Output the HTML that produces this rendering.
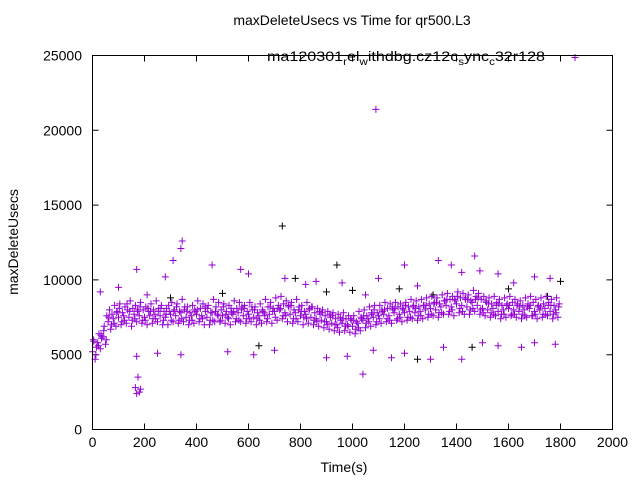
<!DOCTYPE html>
<html><head><meta charset="utf-8"><style>
body{margin:0;background:#fff}
svg{display:block;font-family:"Liberation Sans",sans-serif}
</style></head><body>
<svg id="chart" width="640" height="480" viewBox="0 0 640 480">
<rect width="640" height="480" fill="#fff"/>
<text x="352" y="25" text-anchor="middle" font-size="14">maxDeleteUsecs vs Time for qr500.L3</text>
<text x="344" y="472" text-anchor="middle" font-size="14">Time(s)</text>
<text transform="translate(18,242) rotate(-90)" text-anchor="middle" font-size="14">maxDeleteUsecs</text>
<text x="267" y="61" text-anchor="start" font-size="14" textLength="278" lengthAdjust="spacingAndGlyphs">ma120301<tspan dy="4" font-size="10">r</tspan><tspan dy="-4">el</tspan><tspan dy="4" font-size="10">w</tspan><tspan dy="-4">ithdbg.cz12c</tspan><tspan dy="4" font-size="10">s</tspan><tspan dy="-4">ync</tspan><tspan dy="4" font-size="10">c</tspan><tspan dy="-4">32r128</tspan></text>
<path d="M571.5 57.5H578.5M575 54V61" stroke="#9400d3" stroke-width="1"/>
<g id="axes"></g>
<g id="marks"></g>
<rect x="92.5" y="55.5" width="520" height="374" fill="none" stroke="#000"/>
</svg>
<script>
const xTicks=[0,200,400,600,800,1000,1200,1400,1600,1800,2000];
const yTicks=[0,5000,10000,15000,20000,25000];
const bandTimes=[0,20,40,60,80,100,120,140,160,180,200,220,240,260,280,300,320,340,360,380,400,420,440,460,480,500,520,540,560,580,600,620,640,660,680,700,720,740,760,780,800,820,840,860,880,900,920,940,960,980,1000,1020,1040,1060,1080,1100,1120,1140,1160,1180,1200,1220,1240,1260,1280,1300,1320,1340,1360,1380,1400,1420,1440,1460,1480,1500,1520,1540,1560,1580,1600,1620,1640,1660,1680,1700,1720,1740,1760,1780];
const bandA=[5200,5800,6200,7200,7400,7500,7600,7500,7700,7600,7500,7600,7700,7600,7500,7700,7600,7800,7500,7600,7700,7600,7500,7800,7700,7600,7500,7700,7800,7600,7700,7500,7600,7800,7700,7900,8000,7800,7700,7800,7600,7700,7500,7400,7300,7200,7100,7000,7100,7000,6900,7100,7300,7400,7500,7600,7700,7600,7800,7700,7800,7900,7800,7900,8000,8100,8000,8200,8300,8200,8400,8300,8200,8500,8300,8100,8000,8100,7900,8000,8100,8000,7900,8000,8100,7900,8000,8100,7900,8000];
const bandB=[5900,6400,6900,8000,8300,8400,8200,8600,8300,8500,8200,8400,8600,8300,8100,8500,8400,8700,8200,8300,8600,8400,8300,8700,8500,8400,8300,8600,8500,8300,8500,8200,8400,8700,8500,8800,8900,8600,8500,8700,8300,8500,8200,8100,8000,7900,7800,7700,7800,7600,7600,7900,8000,8200,8300,8300,8500,8400,8500,8400,8500,8700,8600,8700,8800,8900,8800,9000,9100,8900,9200,9100,9000,9300,9100,8900,8800,8900,8700,8800,8900,8700,8600,8800,8900,8700,8800,8900,8700,8800];
const bandC=[4700,5400,5700,6700,6900,7000,7100,6900,7200,7100,7000,7100,7200,7000,7000,7200,7100,7200,7000,7100,7200,7000,7000,7200,7200,7100,7000,7200,7200,7100,7200,7000,7100,7200,7100,7300,7400,7200,7100,7200,7000,7100,7000,6900,6800,6700,6600,6500,6600,6500,6400,6600,6800,6900,7000,7100,7200,7100,7300,7200,7300,7400,7300,7400,7500,7600,7500,7700,7700,7600,7800,7700,7700,7900,7700,7600,7500,7600,7400,7500,7600,7500,7400,7500,7600,7400,7500,7600,7400,7500];
const bandD=[5500,6100,7600,7700,7900,7800,8000,8100,7900,8000,7900,8000,8100,7900,7900,8000,7900,8200,7800,7900,8100,7900,7800,8200,8000,7900,7800,8100,8200,7900,8000,7800,7900,8200,8100,8300,8400,8200,8000,8200,7900,8100,7800,7700,7600,7500,7400,7300,7400,7300,7200,7400,7600,7700,7800,7900,8100,8000,8200,8000,8200,8300,8200,8300,8400,8500,8400,8600,8700,8600,8800,8700,8600,8900,8700,8500,8400,8500,8300,8400,8500,8400,8300,8400,8500,8300,8400,8500,8300,8400];
const bandE=[6000,5600,6600,7500,7100,8100,7300,7900,7400,8200,7300,7900,7400,8100,7700,7300,8200,7400,7900,7300,8000,7400,8100,7300,7600,8200,7400,7900,7300,8100,7400,8000,7300,7600,8200,7500,8100,7600,8300,7400,7900,7400,8200,7200,7800,7000,7600,6800,7400,6900,7300,6800,7600,7200,8000,7400,8000,7300,8100,7500,8300,7500,8100,7600,8300,7700,8500,7800,8700,8000,8900,7900,8700,8100,8800,7800,8400,7700,8400,7700,8300,7700,8200,7600,8300,7700,8200,7700,8300,7800];
const bandF=[5000,6300,6000,7000,7800,7200,8400,7300,8000,7300,8100,7400,7900,7300,8300,7900,7300,8000,7300,8000,7400,8200,7300,7900,7300,7700,8100,7400,8000,7400,8200,7400,8000,7400,7900,8100,7600,8300,7400,8000,7500,8000,7300,7900,7200,7700,7000,7500,6900,7400,6700,7500,7100,7800,7200,8000,7400,8200,7400,8100,7500,8200,7600,8300,7700,8400,7800,8600,7900,8700,8100,8800,8000,8700,8000,8600,7800,8300,7700,8300,7700,8300,7700,8200,7600,8200,7700,8300,7700,8200];
const outT=[1090,345,340,310,170,1470,460,1200,1330,570,170,175,165,170,185,180,250,340,520,620,700,900,980,1040,1080,1150,1200,1300,1350,1420,1500,1560,1650,1700,1780,30,1050,1100,1420,1490,1700,1760,1620,1560,600,820,960,1250,740,860,1380,210,100,280];
const outV=[21400,12600,12100,11300,10700,11600,11000,11000,11300,10700,4900,3500,2800,2400,2700,2500,5100,5000,5200,5000,5300,4800,4900,3700,5300,4800,5100,4700,5500,4700,5800,5600,5500,5800,5700,9200,9000,10100,10500,10600,10200,10100,9800,10400,10400,9700,9800,9600,10100,9900,11000,9000,9500,10200];
const blkT=[730,940,1800,780,640,1460,1250,1180,1750,900,1310,500,1000,300,1600];
const blkV=[13600,11000,9900,10100,5600,5500,4700,9400,8900,9200,9000,9100,9300,8800,9400];
const X=t=>92.5+t*0.26, Y=v=>429.5-v*0.01496;
const NS='http://www.w3.org/2000/svg';
const axes=document.getElementById('axes'), marks=document.getElementById('marks');
function mk(tag,attrs,parent){const e=document.createElementNS(NS,tag);for(const k in attrs)e.setAttribute(k,attrs[k]);parent.appendChild(e);return e;}
xTicks.forEach(t=>{
  const x=X(t);
  const l=mk('path',{d:`M${x} 429.5V423.5M${x} 55.5V61.5`,stroke:'#000'},axes);
  
  
  const tx=mk('text',{x:x,y:447,'text-anchor':'middle','font-size':14},axes);
  tx.textContent=t;
  
  
});
yTicks.forEach(v=>{
  const y=Y(v);
  const l=mk('path',{d:`M92.5 ${y}H98.5M612.5 ${y}H606.5`,stroke:'#000'},axes);
  
  
  const tx=mk('text',{x:82,y:y+5,'text-anchor':'end','font-size':14},axes);
  tx.textContent=v;
  
  
});
function plus(t,v,c){
  const x=X(t),y=Y(v);
  const p=mk('path',{d:`M${x-3.5} ${y}H${x+3.5}M${x} ${y-3.5}V${y+3.5}`,stroke:c,'stroke-width':1},marks);
  
  
}
blkT.forEach((t,i)=>plus(t,blkV[i],'#000'));
[[bandA,0],[bandB,5],[bandC,10],[bandD,15],[bandE,3],[bandF,13]].forEach(([arr,off])=>{
  bandTimes.forEach((t,i)=>plus(t+off,arr[i],'#9400d3'));
});
outT.forEach((t,i)=>plus(t,outV[i],'#9400d3'));
</script>
</body></html>
